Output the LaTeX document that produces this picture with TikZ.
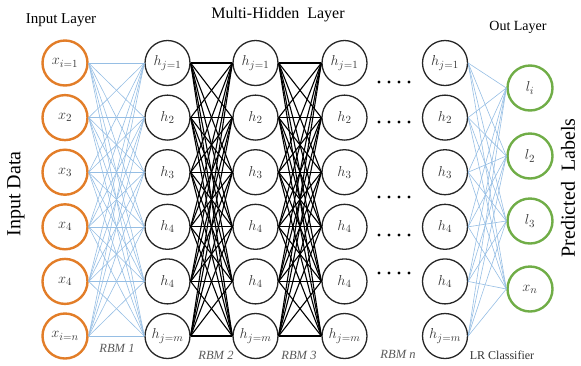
\documentclass[tikz,border=0pt]{standalone}
\usepackage{fontspec}
\setmainfont{Liberation Serif}
\definecolor{inorange}{RGB}{226,125,40}
\definecolor{outgreen}{RGB}{112,173,71}
\definecolor{wblue}{RGB}{150,190,228}
\definecolor{nodetext}{RGB}{55,55,55}
\tikzset{
  neuron/.style={circle, draw, minimum size=45pt, inner sep=0pt, font=\fontsize{15}{16}\selectfont, text=nodetext},
  innode/.style={neuron, draw=inorange, line width=2.4pt},
  hidnode/.style={neuron, draw=black!85, line width=1.3pt},
  outnode/.style={neuron, draw=outgreen, line width=2.4pt},
  blueedge/.style={draw=wblue, line width=0.6pt},
  blackedge/.style={draw=black, line width=1.1pt},
  layertitle/.style={font=\fontsize{15}{17}\selectfont},
  rbmlabel/.style={font=\itshape\fontsize{12.5}{14}\selectfont, text=black!65},
  sidelabel/.style={font=\fontsize{20}{22}\selectfont, rotate=90},
  dotmark/.style={fill=black}
}
\begin{document}
\begin{tikzpicture}[x=1pt,y=-1pt]
\useasboundingbox (0,0) rectangle (581,365);
% input layer
\foreach \i/\lab in {1/{x_{i=1}},2/{x_2},3/{x_3},4/{x_4},5/{x_4},6/{x_{i=n}}}
  \node[innode] (x\i) at (65,{63+54.6*(\i-1)}) {$\lab$};
% hidden columns
\foreach \c/\xx in {a/167.5,b/255.5,c/344.5,d/445}
  \foreach \i/\lab in {1/{h_{j=1}},2/{h_2},3/{h_3},4/{h_4},5/{h_4},6/{h_{j=m}}}
    \node[hidnode] (\c\i) at (\xx,{63+54.6*(\i-1)}) {$\lab$};
% output layer
\foreach \i/\yy/\lab in {1/88/{l_i},2/156/{l_2},3/221/{l_3},4/289/{x_n}}
  \node[outnode] (o\i) at (530,\yy) {$\lab$};
% connections
\foreach \i in {1,...,6}
  \foreach \j in {1,...,6}
    \draw[blueedge] (x\i.east) -- (a\j.west);
\foreach \i in {1,...,6}
  \foreach \j in {1,...,6}{
    \draw[blackedge] (a\i.east) -- (b\j.west);
    \draw[blackedge] (b\i.east) -- (c\j.west);
  }
\foreach \i in {1,...,6}
  \foreach \j in {1,...,4}
    \draw[blueedge] (d\i.east) -- (o\j.west);
% dots
\foreach \yy in {82,122,197,235,273}
  \foreach \k in {0,1,2,3}
    \fill[dotmark] ({379+10*\k},\yy) circle (1.6pt);
% titles
\node[layertitle] (tin) at (61,20) {Input Layer};
\node[layertitle, font=\fontsize{16}{18}\selectfont] (thid) at (278,15) {Multi-Hidden\ \ Layer};
\node[layertitle, font=\fontsize{14}{16}\selectfont] (tout) at (518,27) {Out Layer};
\node[sidelabel] (sin) at (16,194) {Input Data};
\node[sidelabel] (sout) at (568,188) {Predicted\ \ Labels};
% rbm labels
\node[rbmlabel] (r1) at (117,348) {RBM 1};
\node[rbmlabel] (r2) at (216,355) {RBM 2};
\node[rbmlabel] (r3) at (299,355) {RBM 3};
\node[rbmlabel] (rn) at (398,354) {RBM \textit{n}};
\node[font=\fontsize{12}{14}\selectfont, text=black!80] (lr) at (502,355) {LR Classifier};
\end{tikzpicture}
\end{document}
